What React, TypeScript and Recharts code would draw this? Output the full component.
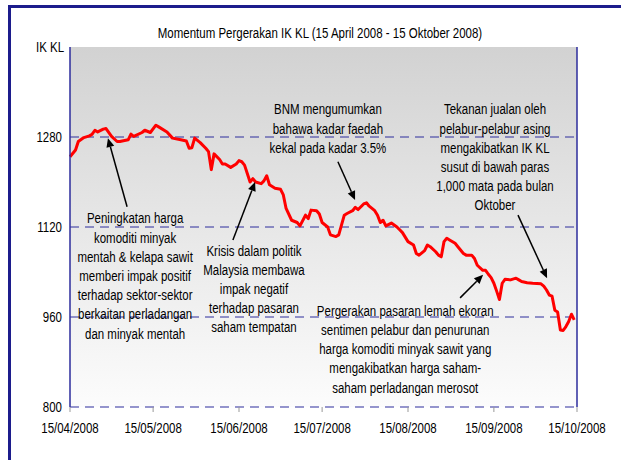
import React from "react";
import {
  LineChart,
  Line,
  XAxis,
  YAxis,
  CartesianGrid,
  ReferenceLine,
  ReferenceDot,
} from "recharts";

// days since 15/04/2008 and the index close
const days = [
  0, 2, 3, 5, 7, 8, 9, 10, 12, 13, 15, 17, 18, 21, 22, 23, 26, 27, 29, 31,
  32, 35, 37, 40, 42, 43, 44, 45, 47, 49, 50, 51, 52, 54, 55, 56, 58, 60, 61,
  62, 63, 65, 66, 67, 69, 70, 71, 72, 74, 76, 77, 78, 80, 82, 83, 85, 86, 87,
  89, 90, 91, 93, 94, 96, 97, 99, 100, 102, 103, 104, 106, 107, 108, 110, 111,
  112, 113, 114, 116, 118, 119, 120, 122, 124, 125, 126, 128, 129, 130, 132,
  133, 134, 135, 136, 137, 139, 140, 142, 143, 145, 146, 147, 149, 150, 151,
  152, 153, 154, 155, 156, 157, 159, 161, 162, 163, 165, 167, 170, 171, 172,
  173, 174, 175, 176, 177, 178, 179, 180, 181, 182,
];
const ikkl = [
  1245, 1257, 1272, 1279, 1282, 1285, 1292, 1289, 1294, 1295, 1281, 1272,
  1272, 1275, 1285, 1281, 1288, 1292, 1288, 1301, 1298, 1289, 1278, 1275,
  1273, 1260, 1261, 1278, 1270, 1260, 1254, 1222, 1250, 1240, 1232, 1232,
  1226, 1232, 1238, 1236, 1230, 1200, 1206, 1200, 1197, 1202, 1211, 1195,
  1189, 1187, 1177, 1153, 1132, 1128, 1122, 1141, 1135, 1150, 1149, 1143,
  1128, 1120, 1106, 1103, 1106, 1141, 1144, 1149, 1155, 1151, 1161, 1163,
  1157, 1149, 1141, 1128, 1132, 1122, 1127, 1120, 1115, 1110, 1094, 1088,
  1073, 1070, 1078, 1088, 1085, 1076, 1070, 1067, 1094, 1100, 1097, 1091,
  1085, 1073, 1070, 1070, 1064, 1052, 1043, 1043, 1036, 1030, 1020, 1006,
  991, 1020, 1027, 1026, 1029, 1026, 1023, 1021, 1020, 1019, 1015, 1008, 999,
  997, 972, 969, 937, 936, 943, 952, 965, 955,
];
const tickDays = [0, 30, 61, 91, 122, 153, 183];
const tickLabels = [
  "15/04/2008",
  "15/05/2008",
  "15/06/2008",
  "15/07/2008",
  "15/08/2008",
  "15/09/2008",
  "15/10/2008",
];
const yTicks = [800, 960, 1120, 1280];

const notes = [
  {
    text: [
      "Peningkatan harga",
      "komoditi minyak",
      "mentah & kelapa sawit",
      "memberi impak positif",
      "terhadap sektor-sektor",
      "berkaitan perladangan",
      "dan minyak mentah",
    ],
    at: [23.5, 1136],
    from: [20.6, 1156],
    to: [13.7, 1278],
  },
  {
    text: [
      "Krisis dalam politik",
      "Malaysia membawa",
      "impak negatif",
      "terhadap pasaran",
      "saham tempatan",
    ],
    at: [66.4, 1079],
    from: [58.8, 1097],
    to: [66.8, 1200],
  },
  {
    text: ["BNM mengumumkan", "bahawa kadar faedah", "kekal pada kadar 3.5%"],
    at: [93.1, 1330],
    from: [96.7, 1236],
    to: [102.9, 1168],
  },
  {
    text: [
      "Tekanan jualan oleh",
      "pelabur-pelabur asing",
      "mengakibatkan IK KL",
      "susut di bawah paras",
      "1,000 mata pada bulan",
      "Oktober",
    ],
    at: [153.4, 1330],
    from: [161.7, 1141],
    to: [172.2, 1029],
  },
  {
    text: [
      "Pergerakan pasaran lemah ekoran",
      "sentimen pelabur dan penurunan",
      "harga komoditi minyak sawit yang",
      "mengakibatkan harga saham-",
      "saham perladangan merosot",
    ],
    at: [121, 972],
    from: [140.8, 994],
    to: [149.1, 1035],
  },
];

const data = days.map((d, i) => ({ day: d, ikkl: ikkl[i] }));

const FONT = "'Liberation Sans', Arial, sans-serif";
const BLUE = "#2c2c9c";
const SQ = 0.82; // horizontal squeeze to mimic a narrow face

const Arrow = (p: any) => {
  const { x1, y1, x2, y2 } = p;
  const a = Math.atan2(y2 - y1, x2 - x1);
  const bx = x2 - 9 * Math.cos(a);
  const by = y2 - 9 * Math.sin(a);
  const s = Math.sin(a) * 4;
  const c = Math.cos(a) * 4;
  return (
    <g>
      <line x1={x1} y1={y1} x2={bx} y2={by} stroke="#000" strokeWidth={1.5} />
      <polygon
        points={`${x2},${y2} ${bx + s},${by - c} ${bx - s},${by + c}`}
        fill="#000"
      />
    </g>
  );
};

const noteShape = (lines: string[]) => (p: any) => (
  <g transform={`translate(${p.cx},${p.cy}) scale(${SQ},1)`}>
    <text
      x={0}
      y={0}
      textAnchor="middle"
      dominantBaseline="central"
      fontFamily={FONT}
      fontSize={14}
      fill="#000"
    >
      {lines.map((l, i) => (
        <tspan key={i} x={0} dy={i === 0 ? 0 : 19.2}>
          {l}
        </tspan>
      ))}
    </text>
  </g>
);

const XTick = (p: any) => (
  <g transform={`translate(${p.x},${p.y}) scale(${SQ},1)`}>
    <text textAnchor="middle" dy="0.71em" fontFamily={FONT} fontSize={14} fill="#000">
      {tickLabels[tickDays.indexOf(p.payload.value)]}
    </text>
  </g>
);

const YTick = (p: any) => (
  <g transform={`translate(${p.x},${p.y}) scale(${SQ},1)`}>
    <text textAnchor="end" dy="0.355em" fontFamily={FONT} fontSize={14} fill="#000">
      {p.payload.value}
    </text>
  </g>
);

export default function App() {
  return (
    <div
      style={{
        position: "fixed",
        left: 0,
        top: 0,
        width: 621,
        height: 460,
        overflow: "hidden",
        background: "#fff",
        fontFamily: FONT,
      }}
    >
      <div
        style={{
          position: "absolute",
          left: 8,
          top: 5,
          width: 700,
          height: 600,
          border: "3px solid #1c1c8c",
        }}
      />
      <div
        style={{
          position: "absolute",
          left: 320,
          top: 25,
          transform: `translateX(-50%) scaleX(${SQ})`,
          whiteSpace: "nowrap",
          fontSize: 14,
          lineHeight: "16px",
        }}
      >
        Momentum Pergerakan IK KL (15 April 2008 - 15 Oktober 2008)
      </div>
      <div
        style={{
          position: "absolute",
          left: 36,
          top: 39,
          fontSize: 14,
          lineHeight: "16px",
          transform: `scaleX(${SQ})`,
          transformOrigin: "left center",
        }}
      >
        IK KL
      </div>
      <div style={{ position: "absolute", left: 0, top: 0 }}>
        <LineChart
          width={621}
          height={460}
          data={data}
          margin={{ top: 47, right: 44, bottom: 23, left: 0 }}
        >
          <defs>
            <linearGradient id="plotBg" x1="0" y1="0" x2="0" y2="1">
              <stop offset="0%" stopColor="#d2d2d2" />
              <stop offset="100%" stopColor="#fcfcfc" />
            </linearGradient>
          </defs>
          <CartesianGrid
            vertical={false}
            horizontal={false}
            fill="url(#plotBg)"
          />
          <XAxis
            dataKey="day"
            type="number"
            domain={[0, 183]}
            ticks={tickDays}
            axisLine={false}
            tickLine={{ stroke: "#999" }}
            tickSize={5}
            tickMargin={11}
            height={30}
            tick={XTick}
            interval={0}
          />
          <YAxis
            domain={[800, 1440]}
            ticks={yTicks}
            width={70}
            axisLine={{ stroke: BLUE, strokeWidth: 1.5 }}
            tickLine={false}
            tick={YTick}
          />
          {yTicks.map((v) => (
            <ReferenceLine
              key={v}
              y={v}
              stroke={BLUE}
              strokeDasharray="9 6"
            />
          ))}
          <ReferenceLine x={183} stroke={BLUE} strokeWidth={1.5} />
          <Line
            type="linear"
            dataKey="ikkl"
            stroke="#ff0000"
            strokeWidth={3}
            strokeLinejoin="round"
            dot={false}
            isAnimationActive={false}
          />
          {notes.map((n, i) => (
            <ReferenceLine
              key={"a" + i}
              segment={[
                { x: n.from[0], y: n.from[1] },
                { x: n.to[0], y: n.to[1] },
              ]}
              shape={Arrow}
            />
          ))}
          {notes.map((n, i) => (
            <ReferenceDot
              key={"t" + i}
              x={n.at[0]}
              y={n.at[1]}
              r={0}
              shape={noteShape(n.text)}
            />
          ))}
        </LineChart>
      </div>
    </div>
  );
}
